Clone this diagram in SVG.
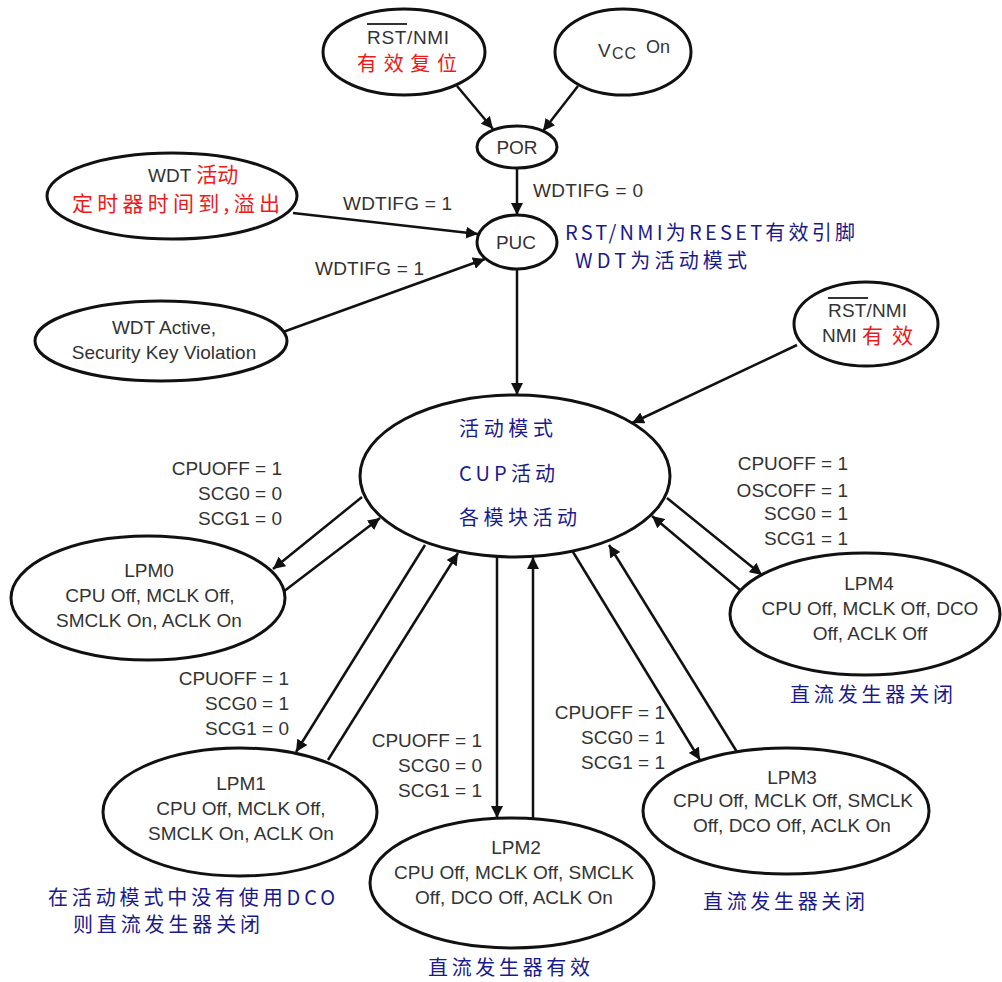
<svg xmlns="http://www.w3.org/2000/svg" width="1002" height="982" viewBox="0 0 1002 982">
<style>
.n{fill:#fff;stroke:#111;stroke-width:3}
.t{font-family:"Liberation Sans","Noto Sans CJK SC",sans-serif;font-size:19px;fill:#333}
.c{text-anchor:middle}
.r{text-anchor:end}
.red{fill:#f01818;font-family:"Noto Sans CJK SC",sans-serif;font-size:21px}
.blue{fill:#1a1a8c;font-family:"Noto Sans CJK SC",sans-serif;font-size:20px}
.ov{stroke:#333;stroke-width:2}
.conn line{stroke:#111;stroke-width:2.5;marker-end:url(#arr)}
</style>
<defs>
<marker id="arr" markerUnits="userSpaceOnUse" markerWidth="13" markerHeight="12" refX="12" refY="6" orient="auto">
<path d="M0,0 L12,6 L0,12 z" fill="#111"/>
</marker>
</defs>
<rect width="1002" height="982" fill="#fff"/>
<g id="connectors" class="conn">
<line x1="457" y1="86" x2="493" y2="129"/>
<line x1="578" y1="86" x2="543" y2="131"/>
<line x1="517" y1="168" x2="517" y2="215"/>
<line x1="293" y1="213" x2="478" y2="234"/>
<line x1="283" y1="332" x2="485" y2="259"/>
<line x1="517" y1="269" x2="517" y2="395"/>
<line x1="797" y1="345" x2="632" y2="423"/>
<line x1="362" y1="497" x2="273" y2="569"/>
<line x1="283" y1="592" x2="380" y2="518"/>
<line x1="425" y1="545" x2="296" y2="752"/>
<line x1="328" y1="760" x2="458" y2="553"/>
<line x1="497" y1="557" x2="497" y2="818"/>
<line x1="533" y1="818" x2="533" y2="557"/>
<line x1="573" y1="552" x2="700" y2="760"/>
<line x1="737" y1="752" x2="609" y2="545"/>
<line x1="667" y1="498" x2="762" y2="575"/>
<line x1="740" y1="590" x2="652" y2="516"/>
</g>
<g id="labels">
<text class="t" x="533" y="197" textLength="110">WDTIFG = 0</text>
<text class="t" x="343" y="210" textLength="109">WDTIFG = 1</text>
<text class="t" x="315" y="275" textLength="109">WDTIFG = 1</text>
<text class="blue" x="565" y="240" textLength="290">RST/NMI为RESET有效引脚</text>
<text class="blue" x="575" y="268" textLength="172">WDT为活动模式</text>
<g class="t r">
<text x="282" y="475">CPUOFF = 1</text>
<text x="282" y="500">SCG0 = 0</text>
<text x="282" y="525">SCG1 = 0</text>
<text x="289" y="685">CPUOFF = 1</text>
<text x="289" y="710">SCG0 = 1</text>
<text x="289" y="735">SCG1 = 0</text>
<text x="482" y="747">CPUOFF = 1</text>
<text x="482" y="772">SCG0 = 0</text>
<text x="482" y="797">SCG1 = 1</text>
<text x="665" y="719">CPUOFF = 1</text>
<text x="665" y="744">SCG0 = 1</text>
<text x="665" y="769">SCG1 = 1</text>
<text x="848" y="470">CPUOFF = 1</text>
<text x="848" y="497">OSCOFF = 1</text>
<text x="848" y="520">SCG0 = 1</text>
<text x="848" y="545">SCG1 = 1</text>
</g>
<text class="blue" x="790" y="702" textLength="163">直流发生器关闭</text>
<text class="blue" x="48" y="905" textLength="287">在活动模式中没有使用DCO</text>
<text class="blue" x="73" y="932" textLength="187">则直流发生器关闭</text>
<text class="blue" x="428" y="975" textLength="162">直流发生器有效</text>
<text class="blue" x="703" y="909" textLength="162">直流发生器关闭</text>
</g>
<g id="rst_top">
<ellipse class="n" cx="404" cy="52" rx="81" ry="43"/>
<text class="t" x="367" y="44" textLength="82">RST/NMI</text>
<line class="ov" x1="367" y1="24" x2="407" y2="24"/>
<text class="red" x="357" y="71" style="font-size:20px" textLength="100">有效复位</text>
</g>
<g id="vcc">
<ellipse class="n" cx="623" cy="52" rx="68" ry="43"/>
<text class="t" x="598" y="57">V</text>
<text class="t" x="612" y="59" style="font-size:16px" textLength="24">CC</text>
<text class="t" x="646" y="53" style="font-size:18px">On</text>
</g>
<g id="por">
<ellipse class="n" cx="517" cy="147" rx="40" ry="21"/>
<text class="t c" x="517" y="154">POR</text>
</g>
<g id="puc">
<ellipse class="n" cx="517" cy="242" rx="40" ry="27"/>
<text class="t c" x="516" y="249">PUC</text>
</g>
<g id="wdt_timer">
<ellipse class="n" cx="172" cy="196" rx="125" ry="43"/>
<text class="t" x="148" y="182">WDT <tspan class="red">活动</tspan></text>
<text class="red" x="72" y="211" textLength="208">定时器时间到,溢出</text>
</g>
<g id="wdt_active">
<ellipse class="n" cx="161" cy="341" rx="126" ry="40"/>
<text class="t c" x="164" y="334">WDT Active,</text>
<text class="t c" x="164" y="359">Security Key Violation</text>
</g>
<g id="rst_right">
<ellipse class="n" cx="866" cy="324" rx="72" ry="42"/>
<text class="t" x="828" y="317" textLength="79">RST/NMI</text>
<line class="ov" x1="828" y1="298" x2="868" y2="298"/>
<text class="t" x="822" y="342">NMI</text>
<text class="red" x="862" y="343" textLength="51">有效</text>
</g>
<g id="active">
<ellipse class="n" cx="515" cy="476" rx="155" ry="81"/>
<text class="blue" x="459" y="436" textLength="94">活动模式</text>
<text class="blue" x="459" y="481" textLength="96">CUP活动</text>
<text class="blue" x="459" y="525" textLength="118">各模块活动</text>
</g>
<g id="lpm0">
<ellipse class="n" cx="148" cy="598" rx="137" ry="62"/>
<text class="t c" x="149" y="577">LPM0</text>
<text class="t c" x="150" y="602">CPU Off, MCLK Off,</text>
<text class="t c" x="149" y="627">SMCLK On, ACLK On</text>
</g>
<g id="lpm1">
<ellipse class="n" cx="240" cy="812" rx="137" ry="64"/>
<text class="t c" x="241" y="790">LPM1</text>
<text class="t c" x="241" y="815">CPU Off, MCLK Off,</text>
<text class="t c" x="241" y="840">SMCLK On, ACLK On</text>
</g>
<g id="lpm2">
<ellipse class="n" cx="512" cy="883" rx="142" ry="65"/>
<text class="t c" x="516" y="854">LPM2</text>
<text class="t c" x="514" y="879">CPU Off, MCLK Off, SMCLK</text>
<text class="t c" x="514" y="904">Off, DCO Off, ACLK On</text>
</g>
<g id="lpm3">
<ellipse class="n" cx="786" cy="811" rx="143" ry="63"/>
<text class="t c" x="792" y="784">LPM3</text>
<text class="t c" x="793" y="807">CPU Off, MCLK Off, SMCLK</text>
<text class="t c" x="792" y="832">Off, DCO Off, ACLK On</text>
</g>
<g id="lpm4">
<ellipse class="n" cx="865" cy="614" rx="135" ry="61"/>
<text class="t c" x="869" y="590">LPM4</text>
<text class="t c" x="870" y="615">CPU Off, MCLK Off, DCO</text>
<text class="t c" x="870" y="640">Off, ACLK Off</text>
</g>
</svg>
